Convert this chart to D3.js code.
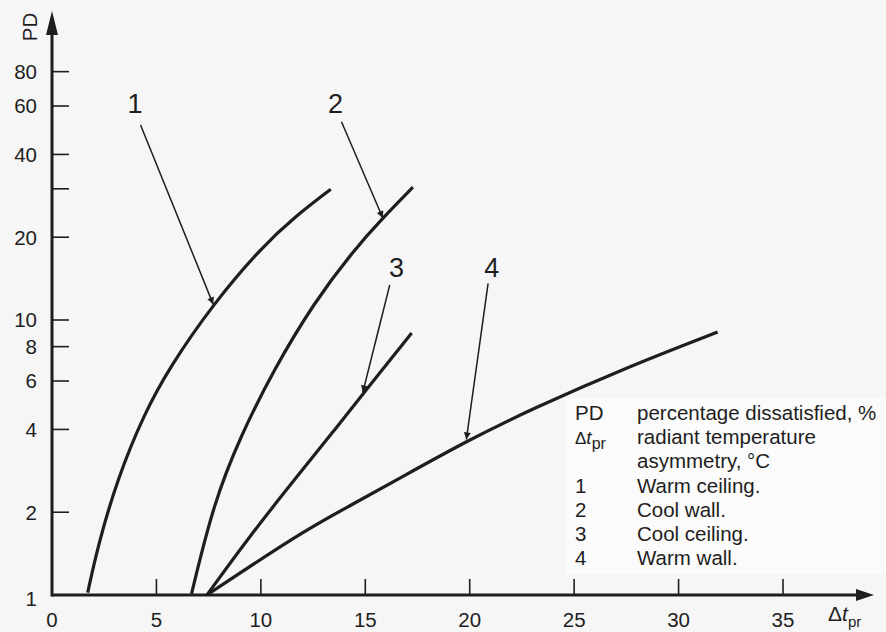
<!DOCTYPE html>
<html>
<head>
<meta charset="utf-8">
<script src="https://cdn.jsdelivr.net/npm/d3@7"></script>
<style>
  body { margin: 0; background: #f6f6f6; }
  svg { display: block; }
  text { font-family: "Liberation Sans", Arial, sans-serif; fill: #1e1e1e; }
</style>
</head>
<body>
<svg id="chart" width="886" height="632"></svg>
<script>
// ticks and labels
var xTicks = [5, 10, 15, 20, 25, 30, 35];
var xLabels = [0, 5, 10, 15, 20, 25, 30, 35];
var yTicks = [2, 4, 6, 8, 10, 20, 30, 40, 60, 80];
var yLabels = [1, 2, 4, 6, 8, 10, 20, 40, 60, 80];

// curves, [delta t_pr, PD]
var warmCeiling = [[1.71, 1.02], [2.19, 1.5], [3.11, 2.62], [4.42, 4.58], [5.65, 6.77], [7.74, 11.5], [10.07, 18.5], [11.62, 23.7], [13.35, 29.9]];
var coolWall = [[6.68, 1.01], [7.74, 2.16], [9.01, 3.76], [10.61, 6.58], [12.52, 11.5], [14.46, 18], [15.84, 23.5], [17.28, 30.4]];
var coolCeiling = [[7.42, 1.0], [9.47, 1.64], [11.87, 2.78], [13.45, 3.91], [14.88, 5.38], [17.22, 8.97]];
var warmWall = [[7.42, 1.0], [11.87, 1.68], [14.26, 2.11], [16.65, 2.66], [19.86, 3.63], [22.87, 4.71], [27.66, 6.8], [31.87, 9.04]];
var curves = [warmCeiling, coolWall, coolCeiling, warmWall];

// callout numbers: label pos, arrow start, arrow tip (data units)
var callNames = ["1", "2", "3", "4"];
var callLabel = [[3.97, 61.5], [13.57, 61.5], [16.49, 15.6], [21.05, 15.6]];
var callFrom = [[4.24, 51.2], [13.86, 52.6], [16.17, 13.4], [20.88, 13.6]];
var callTip = [[7.72, 11.4], [15.84, 23.5], [14.88, 5.45], [19.84, 3.68]];

// legend rows
var legendKeys = ["PD", "dt", "", "1", "2", "3", "4"];
var legendText = ["percentage dissatisfied, %", "radiant temperature", "asymmetry, °C",
  "Warm ceiling.", "Cool wall.", "Cool ceiling.", "Warm wall."];

var svg = d3.select("#chart");
var x = d3.scaleLinear().domain([0, 35]).range([52, 783]);
var y = d3.scaleLog().domain([1, 100]).range([595, 45]);
var ink = "#1e1e1e";

var defs = svg.append("defs");
defs.append("marker").attr("id", "tip")
  .attr("viewBox", "0 0 10 10").attr("refX", 10).attr("refY", 5)
  .attr("markerWidth", 15).attr("markerHeight", 7).attr("markerUnits", "userSpaceOnUse")
  .attr("orient", "auto")
  .append("path").attr("d", "M0,0 L10,5 L0,10 Z").attr("fill", ink);

// legend backdrop
svg.append("rect").attr("x", 566).attr("y", 398).attr("width", 320).attr("height", 176)
  .attr("fill", "#fbfbfb");

// axes
var axes = svg.append("g").attr("stroke", ink).attr("fill", "none");
axes.append("line").attr("x1", x(0)).attr("x2", 862).attr("y1", y(1)).attr("y2", y(1)).attr("stroke-width", 3);
axes.append("line").attr("x1", x(0)).attr("x2", x(0)).attr("y1", y(1) + 1.5).attr("y2", 24).attr("stroke-width", 3);
svg.append("path").attr("fill", ink)
  .attr("d", "M" + (x(0) - 6) + ",35 L" + x(0) + ",11 L" + (x(0) + 6) + ",35 Z");
svg.append("path").attr("fill", ink)
  .attr("d", "M856," + (y(1) - 6) + " L874," + y(1) + " L856," + (y(1) + 6) + " Z");

axes.selectAll(".xt").data(xTicks).enter().append("line")
  .attr("x1", d => x(d)).attr("x2", d => x(d))
  .attr("y1", y(1)).attr("y2", y(1) - 16).attr("stroke-width", 1.6);
axes.selectAll(".yt").data(yTicks).enter().append("line")
  .attr("x1", x(0)).attr("x2", x(0) + 17)
  .attr("y1", d => y(d)).attr("y2", d => y(d)).attr("stroke-width", 1.6);

svg.selectAll(".xl").data(xLabels).enter().append("text")
  .attr("x", d => x(d)).attr("y", 627).attr("text-anchor", "middle")
  .attr("font-size", 20.5).text(d => d);
svg.selectAll(".yl").data(yLabels).enter().append("text")
  .attr("x", 37).attr("y", d => y(d) + (d === 1 ? 4 : 0)).attr("dy", "0.36em")
  .attr("text-anchor", "end").attr("font-size", 20.5).text(d => d);

svg.append("text").attr("transform", "translate(37,27) rotate(-90)")
  .attr("text-anchor", "middle").attr("font-size", 20.5).text("PD");

var xt = svg.append("text").attr("x", 828).attr("y", 621).attr("font-size", 21);
xt.append("tspan").text("Δ");
xt.append("tspan").attr("font-style", "italic").text("t");
xt.append("tspan").attr("font-size", 15).attr("dy", 6).text("pr");

// curves
var line = d3.line().x(d => x(d[0])).y(d => y(d[1])).curve(d3.curveBasis);
svg.append("g").selectAll("path").data(curves).enter().append("path")
  .attr("d", line).attr("fill", "none").attr("stroke", ink).attr("stroke-width", 3.2);

// callouts
var calls = svg.append("g");
calls.selectAll("line").data(callNames).enter().append("line")
  .attr("x1", (d, i) => x(callFrom[i][0])).attr("y1", (d, i) => y(callFrom[i][1]))
  .attr("x2", (d, i) => x(callTip[i][0])).attr("y2", (d, i) => y(callTip[i][1]))
  .attr("stroke", ink).attr("stroke-width", 1.5).attr("marker-end", "url(#tip)");
calls.selectAll("text").data(callNames).enter().append("text")
  .attr("x", (d, i) => x(callLabel[i][0])).attr("y", (d, i) => y(callLabel[i][1]))
  .attr("dy", "0.36em").attr("text-anchor", "middle")
  .attr("font-family", "DejaVu Sans").attr("font-weight", 200)
  .attr("font-size", 27).text(d => d);

// legend
var lg = svg.append("g").attr("font-size", 20.5);
legendKeys.forEach(function(k, i) {
  var by = 420 + i * 24.2;
  if (k === "dt") {
    var t = lg.append("text").attr("x", 575).attr("y", by).attr("font-size", 17);
    t.append("tspan").text("Δ");
    t.append("tspan").attr("font-style", "italic").attr("font-size", 19).text("t");
    t.append("tspan").attr("font-size", 16).attr("dy", 5).text("pr");
  } else if (k) {
    lg.append("text").attr("x", 575).attr("y", by).text(k);
  }
  lg.append("text").attr("x", 637).attr("y", by).text(legendText[i]);
});
</script>
</body>
</html>
